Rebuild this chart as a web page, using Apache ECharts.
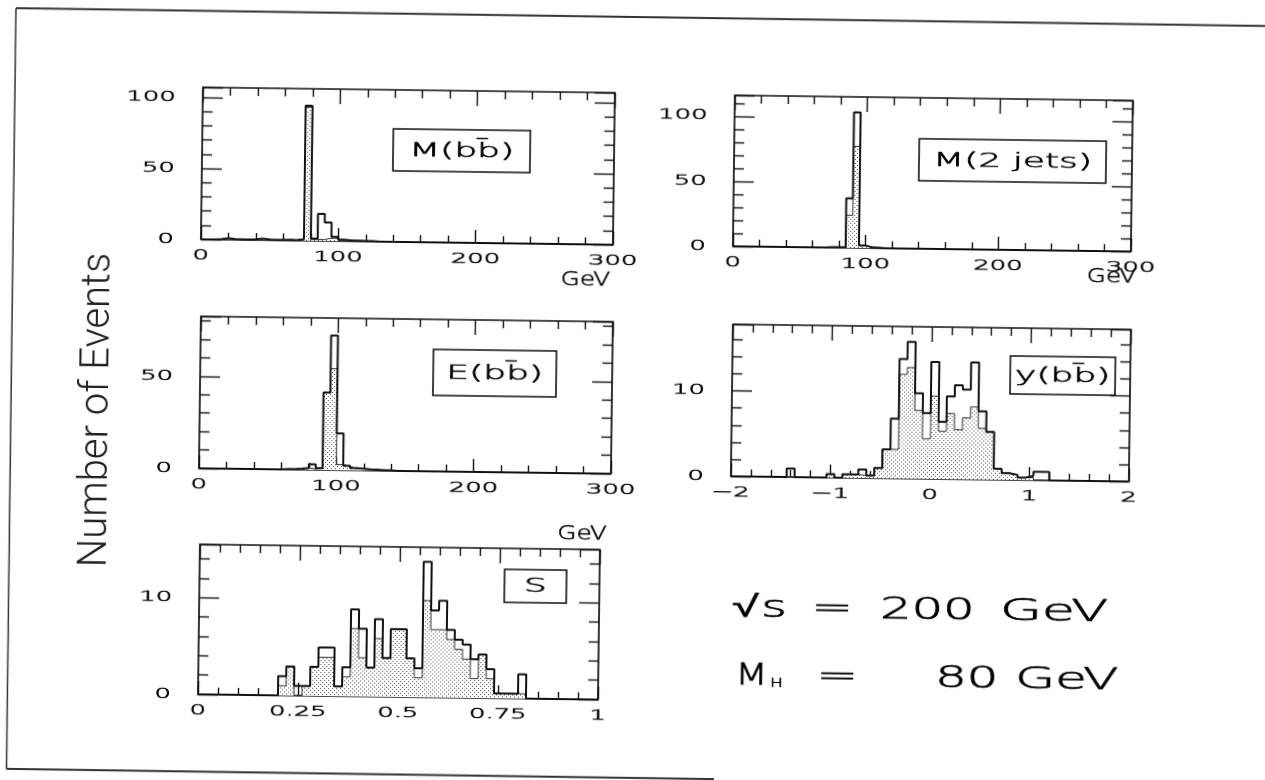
<!DOCTYPE html>
<html>
<head>
<meta charset="utf-8">
<script src="https://cdn.jsdelivr.net/npm/echarts@6/dist/echarts.min.js"></script>
<style>
  html, body { margin: 0; padding: 0; background: #fff; overflow: hidden; }
  /* the whole sheet sits slightly tilted, as on a scanned page */
  #chart { width: 1265px; height: 780px; transform: rotate(0.75deg); transform-origin: 632.5px 390px; }
</style>
</head>
<body>
<div id="chart"></div>
<script>
// ---------------- data ----------------
// Mass / energy histograms: 5 GeV bins from 0 to 300 GeV (60 bins)
const MASS_BIN = 5;
const bbMassAll = [
  0, 0, 0.3, 1, 0.5, 0.3, 0.3, 0.5, 1, 0.5,
  0.3, 0.3, 0.5, 0.3, 1, 95, 1.5, 19, 13, 3,
  1, 0.5, 0.5, 0.3, 0.3, 0, 0, 0, 0, 0,
  0, 0, 0, 0, 0, 0, 0, 0, 0, 0,
  0, 0, 0, 0, 0, 0, 0, 0, 0, 0,
  0, 0, 0, 0, 0, 0, 0, 0, 0, 0
];
const bbMassTagged = [
  0, 0, 0.3, 1, 0.5, 0.3, 0.3, 0.5, 1, 0.5,
  0.3, 0.3, 0.5, 0.3, 1, 94, 1, 1, 2, 2,
  0.5, 0.5, 0.5, 0.3, 0.3, 0, 0, 0, 0, 0,
  0, 0, 0, 0, 0, 0, 0, 0, 0, 0,
  0, 0, 0, 0, 0, 0, 0, 0, 0, 0,
  0, 0, 0, 0, 0, 0, 0, 0, 0, 0
];
const jetMassAll = [
  0, 0, 0, 0, 0, 0, 0, 0, 0, 0,
  0, 0, 0, 0, 0.3, 0.3, 0.5, 38, 104, 2,
  0.5, 0.3, 0, 0, 0, 0, 0, 0, 0, 0,
  0, 0, 0, 0, 0, 0, 0, 0, 0, 0,
  0, 0, 0, 0, 0, 0, 0, 0, 0, 0,
  0, 0, 0, 0, 0, 0, 0, 0, 0, 0
];
const jetMassTagged = [
  0, 0, 0, 0, 0, 0, 0, 0, 0, 0,
  0, 0, 0, 0, 0.3, 0.3, 0.5, 25, 78, 2,
  0.5, 0.3, 0, 0, 0, 0, 0, 0, 0, 0,
  0, 0, 0, 0, 0, 0, 0, 0, 0, 0,
  0, 0, 0, 0, 0, 0, 0, 0, 0, 0,
  0, 0, 0, 0, 0, 0, 0, 0, 0, 0
];
const bbEnergyAll = [
  0, 0, 0, 0, 0, 0, 0, 0, 0, 0,
  0, 0, 0.3, 0.3, 0.5, 1, 3, 1, 42, 73,
  20, 2.5, 1.2, 1, 0.7, 0.5, 0.3, 0.3, 0, 0,
  0, 0, 0, 0, 0, 0, 0, 0, 0, 0,
  0, 0, 0, 0, 0, 0, 0, 0, 0, 0,
  0, 0, 0, 0, 0, 0, 0, 0, 0, 0
];
const bbEnergyTagged = [
  0, 0, 0, 0, 0, 0, 0, 0, 0, 0,
  0, 0, 0.3, 0.3, 0.5, 1, 0.5, 1, 42, 55,
  3, 2, 1, 0.8, 0.5, 0.4, 0.3, 0.3, 0, 0,
  0, 0, 0, 0, 0, 0, 0, 0, 0, 0,
  0, 0, 0, 0, 0, 0, 0, 0, 0, 0,
  0, 0, 0, 0, 0, 0, 0, 0, 0, 0
];
// Rapidity y(bb̄): 0.08 bins from -2 to 2 (50 bins)
const RAPIDITY_LO = -2;
const RAPIDITY_BIN = 0.08;
const rapidityAll = [
  0, 0, 0, 0, 0, 0, 0, 1, 0, 0,
  0, 0, 0.4, 0, 0.4, 0.4, 1, 0.3, 1.2, 3.4,
  7, 14, 16, 10, 7.7, 13.7, 6.7, 9.7, 11, 10.5,
  13.7, 8, 5.6, 1.3, 0.8, 0.6, 0.3, 0.5, 1, 1,
  0, 0, 0, 0, 0, 0, 0, 0, 0, 0
];
const rapidityTagged = [
  0, 0, 0, 0, 0, 0, 0, 0, 0, 0,
  0, 0, 0.4, 0, 0.4, 0.4, 0.3, 0.3, 1.2, 3.4,
  3.4, 12.2, 13, 8, 4.7, 9.7, 5.6, 7.7, 5.8, 7.2,
  8.5, 6, 5.6, 1.3, 0.8, 0.6, 0.3, 0.3, 0, 0,
  0, 0, 0, 0, 0, 0, 0, 0, 0, 0
];
// Sphericity S: 0.02 bins from 0 to 1 (50 bins)
const SPHERICITY_BIN = 0.02;
const sphericityAll = [
  0, 0, 0, 0, 0, 0, 0, 0, 0, 0,
  2, 3, 1, 1, 3, 5, 5, 1, 3, 9,
  7, 3, 8, 4, 7, 7, 4, 3, 14, 9,
  10, 7, 6, 5.5, 4, 4.5, 3, 0.5, 0.5, 0.5,
  2.5, 0, 0, 0, 0, 0, 0, 0, 0, 0
];
const sphericityTagged = [
  0, 0, 0, 0, 0, 0, 0, 0, 0, 0,
  1, 3, 0, 1, 3, 4, 4, 1, 2, 7,
  4, 3, 6, 4, 7, 7, 4, 2, 10, 7,
  7, 6, 5, 4, 2, 4.5, 2, 0.5, 0.5, 0.5,
  0.5, 0, 0, 0, 0, 0, 0, 0, 0, 0
];

// tick labels
const massTicks = [0, 100, 200, 300];
const bbMassYTicks = [0, 50, 100];
const jetMassYTicks = [0, 50, 100];
const energyYTicks = [0, 50];
const rapidityTicks = [-2, -1, 0, 1, 2];
const rapidityYTicks = [0, 10];
const sphericityTicks = [0, 0.25, 0.5, 0.75, 1];
const sphericityYTicks = [0, 10];

// ---------------- drawing ----------------
const PLOT_FONT = "'DejaVu Sans', sans-serif";
const TITLE_FONT = "Roboto, 'Liberation Sans', sans-serif";
const INK = '#111';
const THIN = 200;

// light stipple used for the tagged sample
const stipple = document.createElement('canvas');
stipple.width = 4; stipple.height = 4;
(function () {
  const g = stipple.getContext('2d');
  g.fillStyle = '#fff'; g.fillRect(0, 0, 4, 4);
  g.fillStyle = '#505050'; g.fillRect(0, 0, 1, 1); g.fillRect(2, 2, 1, 1);
})();

function histPoints(values, lo, width) {
  const pts = values.map((v, k) => [+(lo + k * width).toFixed(4), v]);
  pts.push([+(lo + values.length * width).toFixed(4), values[values.length - 1]]);
  return pts;
}

const BAR = '\u0304';
const panels = [
  { grid: { left: 199, top: 93, width: 412, height: 152 }, x: [0, 300, 100], y: [0, 107, 50],
    all: bbMassAll, tagged: bbMassTagged, lo: 0, bin: MASS_BIN,
    xTicks: massTicks, yTicks: bbMassYTicks, label: 'M(bb' + BAR + ')', box: [191, 39, 137, 42], gev: [-27, 36] },
  { grid: { left: 731, top: 94, width: 398, height: 151 }, x: [0, 300, 100], y: [0, 116, 50],
    all: jetMassAll, tagged: jetMassTagged, lo: 0, bin: MASS_BIN,
    xTicks: massTicks, yTicks: jetMassYTicks, label: 'M(2 jets)', box: [185, 41, 187, 42], gev: [-19, 26] },
  { grid: { left: 200, top: 322, width: 412, height: 152 }, x: [0, 300, 100], y: [0, 82.5, 50],
    all: bbEnergyAll, tagged: bbEnergyTagged, lo: 0, bin: MASS_BIN,
    xTicks: massTicks, yTicks: energyYTicks, label: 'E(bb' + BAR + ')', box: [233, 30, 123, 46], gev: [-28, 61] },
  { grid: { left: 732, top: 323, width: 398, height: 152 }, x: [-2, 2, 1], y: [0, 17.8, 10],
    all: rapidityAll, tagged: rapidityTagged, lo: RAPIDITY_LO, bin: RAPIDITY_BIN,
    xTicks: rapidityTicks, yTicks: rapidityYTicks, label: 'y(bb' + BAR + ')', box: [278, 28, 105, 38], gev: null },
  { grid: { left: 202, top: 550, width: 400, height: 150 }, x: [0, 1, 0.25], y: [0, 15.5, 10],
    all: sphericityAll, tagged: sphericityTagged, lo: 0, bin: SPHERICITY_BIN,
    xTicks: sphericityTicks, yTicks: sphericityYTicks, label: 'S', box: [305, 21, 62, 33], gev: null }
];

function axis(i, pos, range, majorLen, minorLen) {
  return {
    type: 'value', gridIndex: i, position: pos,
    min: range[0], max: range[1], interval: range[2],
    axisLine: { show: false, onZero: false },
    axisLabel: { show: false },
    splitLine: { show: false },
    axisTick: { show: true, inside: true, length: majorLen, lineStyle: { color: INK, width: 1.4 } },
    minorTick: { show: true, splitNumber: 5, length: minorLen, lineStyle: { color: INK, width: 1.4 } }
  };
}

const grids = [], xAxes = [], yAxes = [], series = [];
panels.forEach((p, i) => {
  grids.push(Object.assign({ show: true, borderColor: INK, borderWidth: 1.7, backgroundColor: 'transparent' }, p.grid));
  xAxes.push(axis(i, 'bottom', p.x, 13, 7));
  xAxes.push(axis(i, 'top', p.x, 15, 8));
  yAxes.push(axis(i, 'left', p.y, 20, 10));
  yAxes.push(axis(i, 'right', p.y, 20, 10));
  series.push({
    type: 'line', step: 'end', xAxisIndex: 2 * i, yAxisIndex: 2 * i,
    data: histPoints(p.tagged, p.lo, p.bin), symbol: 'none', silent: true, z: 2,
    lineStyle: { color: '#333', width: 1 },
    areaStyle: { color: { image: stipple, repeat: 'repeat' }, opacity: 1 }
  });
  series.push({
    type: 'line', step: 'end', xAxisIndex: 2 * i, yAxisIndex: 2 * i,
    data: histPoints(p.all, p.lo, p.bin), symbol: 'none', silent: true, z: 3,
    lineStyle: { color: INK, width: 2 }
  });
});

const chart = echarts.init(document.getElementById('chart'), null, { renderer: 'canvas' });
chart.setOption({
  animation: false,
  backgroundColor: '#fff',
  grid: grids, xAxis: xAxes, yAxis: yAxes, series: series
});

// thin plotter-style lettering, given a hairline stroke for a little more body
function text(x, y, str, size, sx, align, valign, edge) {
  return {
    type: 'text', x: x, y: y, scaleX: sx, silent: true, z: 10,
    style: { text: str, fontSize: size, fontFamily: PLOT_FONT, fontWeight: THIN,
             fill: '#000', stroke: '#000', lineWidth: edge == null ? 0.55 : edge,
             align: align, verticalAlign: valign }
  };
}
function fmt(v) { return String(v).replace('-', '\u2212'); }

const gfx = [];
// sheet border
gfx.push({ type: 'line', silent: true, shape: { x1: 11, y1: 16.2, x2: 1280, y2: 17.8 }, style: { stroke: '#333', lineWidth: 2 } });
gfx.push({ type: 'line', silent: true, shape: { x1: 11, y1: 16.2, x2: 11.5, y2: 777 }, style: { stroke: '#333', lineWidth: 1.5 } });
gfx.push({ type: 'line', silent: true, shape: { x1: 11.5, y1: 777, x2: 719, y2: 778 }, style: { stroke: '#333', lineWidth: 2 } });

panels.forEach((p, i) => {
  const g = p.grid, bottom = g.top + g.height, right = g.left + g.width;
  p.xTicks.forEach(v => {
    const px = chart.convertToPixel({ xAxisIndex: 2 * i }, v);
    gfx.push(text(px, bottom + 16, fmt(v), 14, 1.85, 'center', 'middle'));
  });
  p.yTicks.forEach(v => {
    const py = chart.convertToPixel({ yAxisIndex: 2 * i }, v);
    gfx.push(text(g.left - 27, py, fmt(v), 14, 1.85, 'right', 'middle'));
  });
  const b = p.box;
  gfx.push({ type: 'rect', silent: true, z: 9, shape: { x: g.left + b[0], y: g.top + b[1], width: b[2], height: b[3] },
             style: { fill: '#fff', stroke: INK, lineWidth: 1.6 } });
  gfx.push(text(g.left + b[0] + b[2] / 2, g.top + b[1] + b[3] / 2 + 1, p.label, 19, 1.9, 'center', 'middle'));
  if (p.gev) gfx.push(text(right + p.gev[0], bottom + p.gev[1], 'GeV', 19, 1.3, 'center', 'middle'));
});

// axis title shared by all panels
gfx.push({
  type: 'text', x: 98, y: 417, rotation: Math.PI / 2, silent: true, z: 10,
  style: { text: 'Number of Events', fontSize: 40, fontFamily: TITLE_FONT, fontWeight: 300,
           fill: '#222', align: 'center', verticalAlign: 'middle' }
});

// collision energy and Higgs mass
const BIG = 30, BIGX = 1.65, BIGEDGE = 0.7;
gfx.push(text(735, 607, '\u221A', BIG, 1.6, 'left', 'middle', BIGEDGE));
gfx.push(text(764, 607, 's', BIG, BIGX, 'left', 'middle', BIGEDGE));
gfx.push(text(835, 607, '=', BIG, BIGX, 'center', 'middle', BIGEDGE));
gfx.push(text(883, 607, '200', BIG, BIGX, 'left', 'middle', BIGEDGE));
gfx.push(text(1003, 607, 'GeV', BIG, 1.8, 'left', 'middle', BIGEDGE));
gfx.push(text(739, 675, 'M', BIG, 1.25, 'left', 'middle', BIGEDGE));
gfx.push(text(774, 682, 'H', 13, 1.3, 'left', 'middle'));
gfx.push(text(841, 675, '=', BIG, BIGX, 'center', 'middle', BIGEDGE));
gfx.push(text(939, 675, '80', BIG, BIGX, 'left', 'middle', BIGEDGE));
gfx.push(text(1019, 675, 'GeV', BIG, 1.72, 'left', 'middle', BIGEDGE));

chart.setOption({ graphic: gfx });
</script>
</body>
</html>
